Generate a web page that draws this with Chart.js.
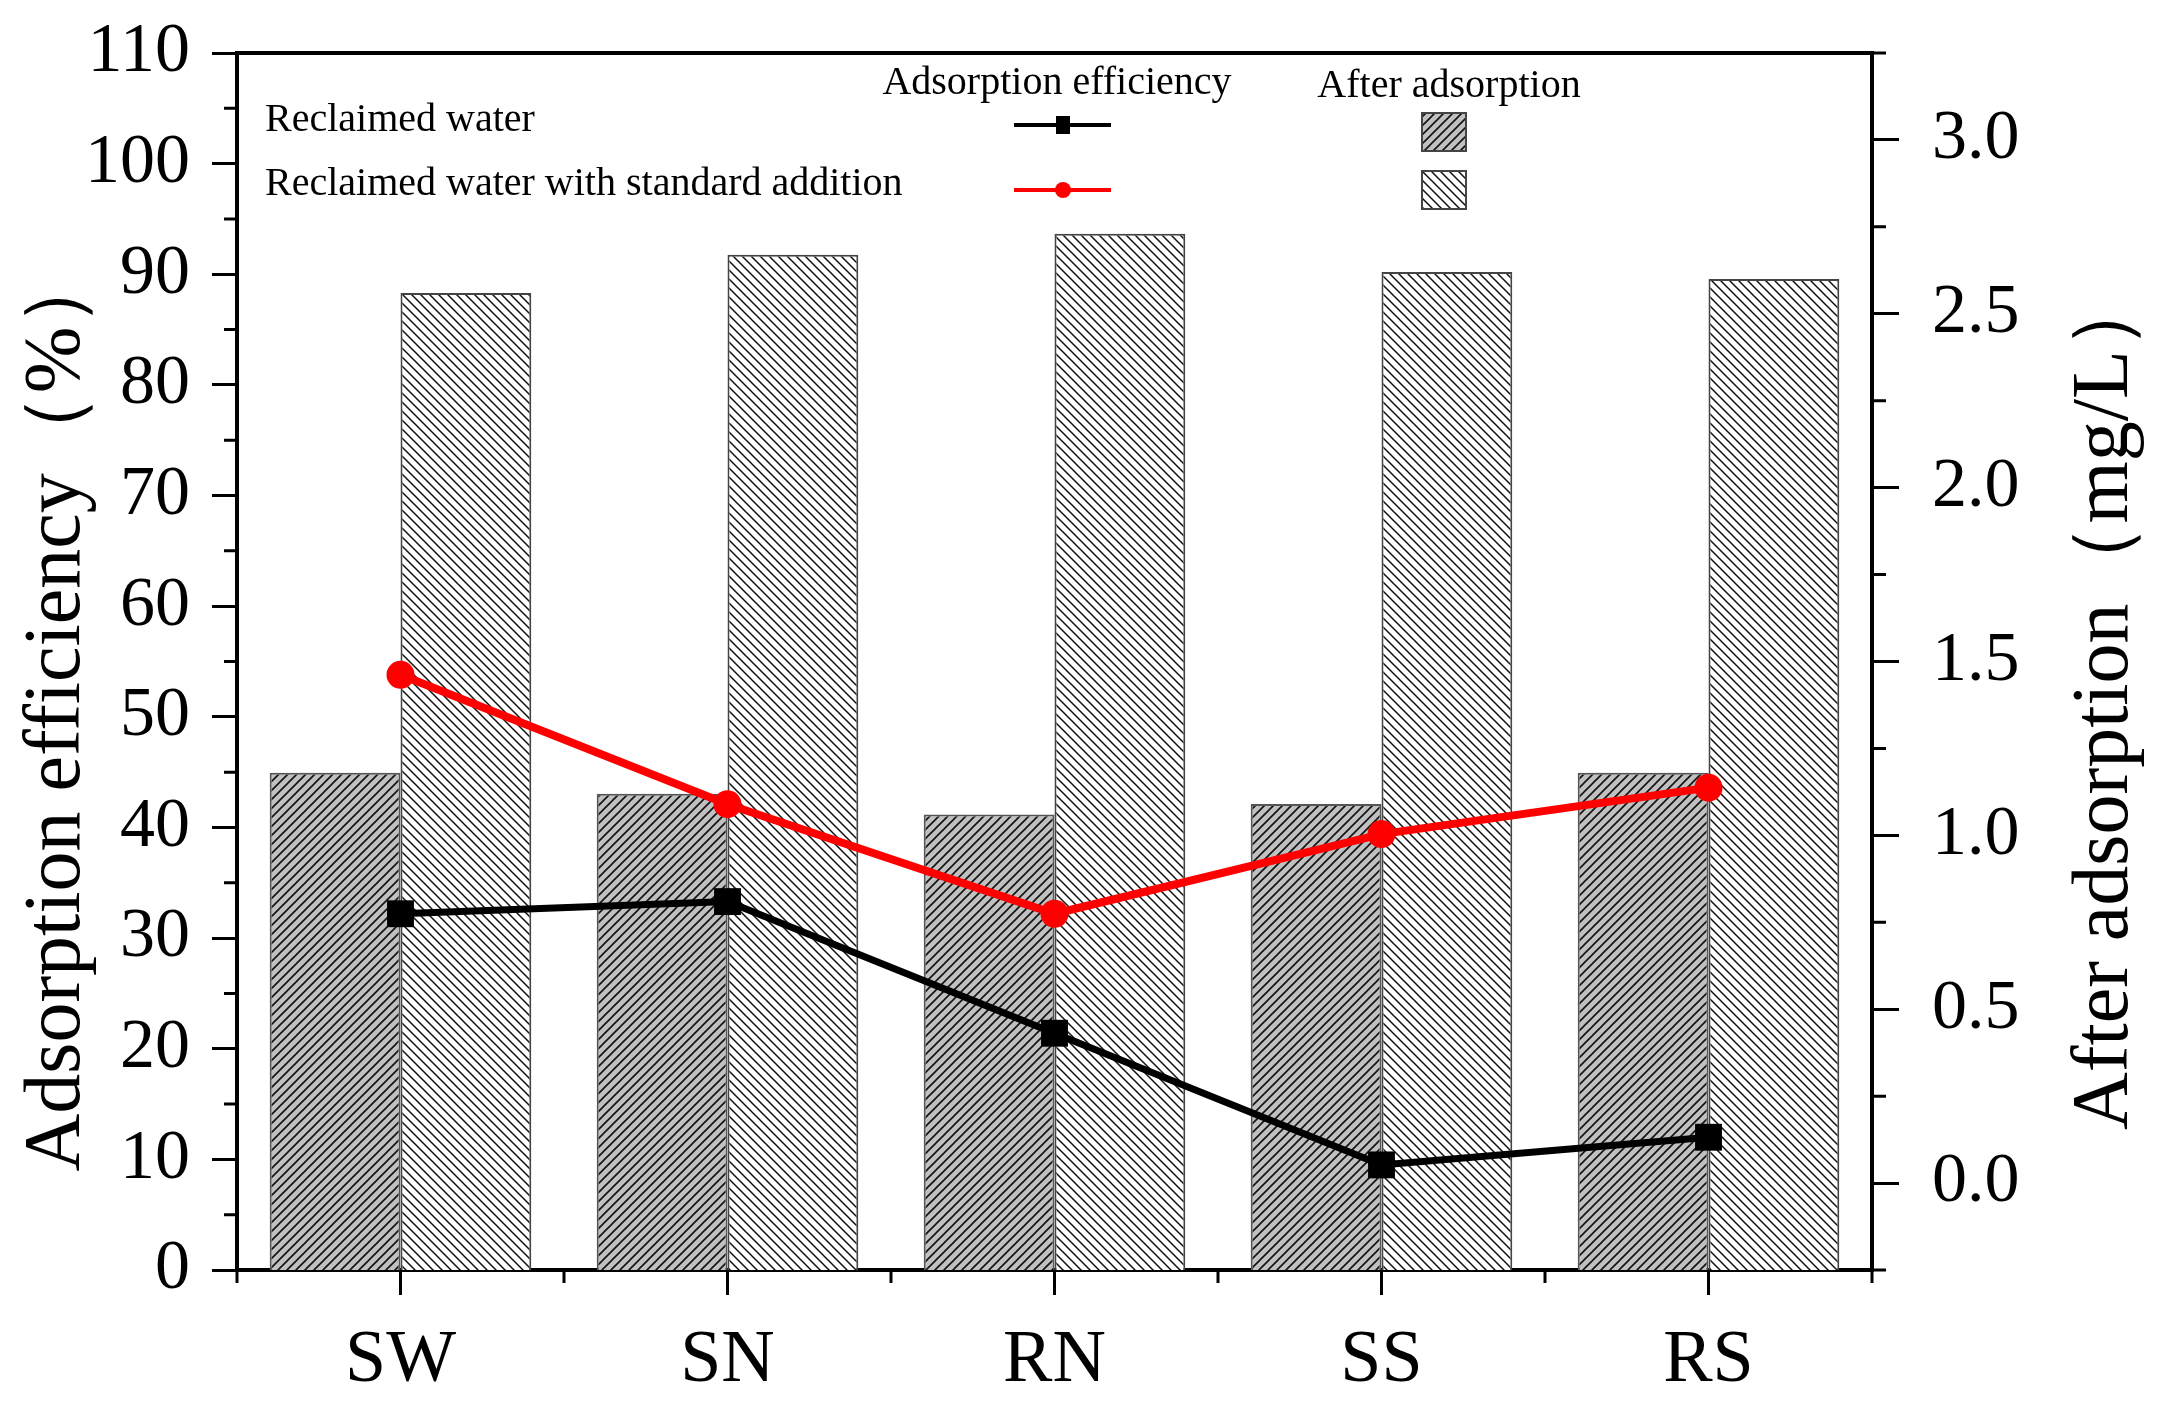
<!DOCTYPE html>
<html><head><meta charset="utf-8">
<script src="https://cdn.jsdelivr.net/npm/chart.js@4.4.1/dist/chart.umd.min.js"></script>
<style>html,body{margin:0;padding:0;background:#fff;} #wrap{width:2164px;height:1405px;}</style>
</head><body><div id="wrap"><canvas id="c" width="2164" height="1405"></canvas></div>
<script>
// ---- data ----
const categories = ['SW', 'SN', 'RN', 'SS', 'RS'];
const efficiencyReclaimed = [32.2, 33.3, 21.4, 9.5, 12.0];      // %  (black squares)
const efficiencyStandard  = [53.8, 42.1, 32.2, 39.4, 43.6];     // %  (red circles)
const afterReclaimed = [1.18, 1.12, 1.06, 1.09, 1.18];          // mg/L (grey hatched bars)
const afterStandard  = [2.56, 2.67, 2.73, 2.62, 2.60];          // mg/L (white hatched bars)
const leftTickValues  = [0, 10, 20, 30, 40, 50, 60, 70, 80, 90, 100, 110];
const rightTickValues = [0.0, 0.5, 1.0, 1.5, 2.0, 2.5, 3.0];
const leftRange  = [0, 110];
const rightRange = [-0.25, 3.25];
const leftTitle  = 'Adsorption efficiency\uFF08%\uFF09';
const rightTitle = 'After adsorption\uFF08mg/L\uFF09';
const legendHeaders = ['Adsorption efficiency', 'After adsorption'];
const legendRows = ['Reclaimed water', 'Reclaimed water with standard addition'];

const SERIF = '"Liberation Serif", "Times New Roman", serif';
const canvas = document.getElementById('c');
const mainCtx = canvas.getContext('2d');

function hatch(bg, dir, s, color, lw) {
  const c = document.createElement('canvas'); c.width = s; c.height = s;
  const x = c.getContext('2d');
  x.fillStyle = bg; x.fillRect(0, 0, s, s);
  x.strokeStyle = color; x.lineWidth = lw; x.beginPath();
  if (dir === '/') {
    x.moveTo(0, s); x.lineTo(s, 0);
    x.moveTo(-s/2, s/2); x.lineTo(s/2, -s/2);
    x.moveTo(s/2, s*1.5); x.lineTo(s*1.5, s/2);
  } else {
    x.moveTo(0, 0); x.lineTo(s, s);
    x.moveTo(-s/2, s/2); x.lineTo(s/2, s*1.5);
    x.moveTo(s/2, -s/2); x.lineTo(s*1.5, s/2);
  }
  x.stroke();
  return mainCtx.createPattern(c, 'repeat');
}
const darkPat = hatch('#c0c0c0', '/', 9, '#111', 1.6);
const lightPat = hatch('#ffffff', '\\', 9, '#111', 1.5);

const decor = {
  id: 'decor',
  afterDraw(chart) {
    const ctx = chart.ctx, a = chart.chartArea;
    const sx = chart.scales.x, sy = chart.scales.y, sr = chart.scales.y1;
    ctx.save();
    ctx.strokeStyle = '#000';
    // top frame
    ctx.lineWidth = 4;
    ctx.beginPath(); ctx.moveTo(a.left - 2, a.top); ctx.lineTo(a.right + 2, a.top); ctx.stroke();
    // minor ticks
    ctx.lineWidth = 3;
    ctx.beginPath();
    for (let v = leftRange[0] + 5; v < leftRange[1]; v += 10) {
      const y = sy.getPixelForValue(v); ctx.moveTo(a.left - 13, y); ctx.lineTo(a.left, y);
    }
    for (let v = rightRange[0]; v <= rightRange[1] + 1e-9; v += 0.5) {
      const y = sr.getPixelForValue(v); ctx.moveTo(a.right, y); ctx.lineTo(a.right + 14, y);
    }
    const n = categories.length;
    for (let i = 0; i <= n; i++) {
      let x;
      if (i === 0) x = a.left; else if (i === n) x = a.right;
      else x = (sx.getPixelForValue(i - 1) + sx.getPixelForValue(i)) / 2;
      ctx.moveTo(x, a.bottom); ctx.lineTo(x, a.bottom + 13);
    }
    ctx.stroke();
    // axis titles
    ctx.fillStyle = '#000';
    ctx.font = '80px ' + SERIF;
    ctx.textAlign = 'center'; ctx.textBaseline = 'middle';
    ctx.save(); ctx.translate(58, 709); ctx.rotate(-Math.PI / 2); ctx.fillText(leftTitle, 0, 0); ctx.restore();
    ctx.save(); ctx.translate(2106, 700); ctx.rotate(-Math.PI / 2); ctx.fillText(rightTitle, 0, 0); ctx.restore();
    // legend
    ctx.font = '40px ' + SERIF;
    ctx.textBaseline = 'alphabetic';
    ctx.textAlign = 'center';
    ctx.fillText(legendHeaders[0], 1057, 94);
    ctx.fillText(legendHeaders[1], 1449, 97);
    ctx.textAlign = 'left';
    ctx.fillText(legendRows[0], 265, 131);
    ctx.fillText(legendRows[1], 265, 195);
    // line samples
    ctx.lineWidth = 4;
    ctx.strokeStyle = '#000';
    ctx.beginPath(); ctx.moveTo(1014, 125); ctx.lineTo(1111, 125); ctx.stroke();
    ctx.fillStyle = '#000'; ctx.fillRect(1063 - 7, 125 - 9, 14, 18);
    ctx.strokeStyle = '#ff0000';
    ctx.beginPath(); ctx.moveTo(1014, 190); ctx.lineTo(1111, 190); ctx.stroke();
    ctx.fillStyle = '#ff0000'; ctx.beginPath(); ctx.arc(1063, 190, 8, 0, Math.PI * 2); ctx.fill();
    // box samples
    ctx.lineWidth = 2; ctx.strokeStyle = '#444';
    ctx.fillStyle = darkPat; ctx.fillRect(1422, 113, 44, 38); ctx.strokeRect(1422, 113, 44, 38);
    ctx.fillStyle = lightPat; ctx.fillRect(1422, 171, 44, 38); ctx.strokeRect(1422, 171, 44, 38);
    ctx.restore();
  }
};

const axisFont = { family: SERIF, size: 70 };
new Chart(canvas, {
  type: 'bar',
  data: {
    labels: categories,
    datasets: [
      { type: 'line', label: 'Reclaimed water – adsorption efficiency', data: efficiencyReclaimed, yAxisID: 'y',
        borderColor: '#000', backgroundColor: '#000', borderWidth: 7, pointStyle: 'rect', pointRadius: 19,
        pointBorderWidth: 0, tension: 0, order: 0 },
      { type: 'line', label: 'Standard addition – adsorption efficiency', data: efficiencyStandard, yAxisID: 'y',
        borderColor: '#ff0000', backgroundColor: '#ff0000', borderWidth: 8, pointStyle: 'circle', pointRadius: 14,
        pointBorderWidth: 0, tension: 0, order: 0 },
      { type: 'bar', label: 'Reclaimed water – after adsorption', data: afterReclaimed, yAxisID: 'y1',
        base: rightRange[0], backgroundColor: darkPat, borderColor: '#555', borderWidth: 2,
        categoryPercentage: 0.8, barPercentage: 1.0, order: 1 },
      { type: 'bar', label: 'Standard addition – after adsorption', data: afterStandard, yAxisID: 'y1',
        base: rightRange[0], backgroundColor: lightPat, borderColor: '#444', borderWidth: 2,
        categoryPercentage: 0.8, barPercentage: 1.0, order: 1 }
    ]
  },
  options: {
    responsive: false, animation: false, devicePixelRatio: 1,
    layout: { padding: { top: 53, left: 0, right: 0, bottom: 0 } },
    plugins: { legend: { display: false }, tooltip: { enabled: false } },
    scales: {
      x: {
        offset: true,
        grid: { display: true, offset: false, drawOnChartArea: false, drawTicks: true, tickLength: 25, lineWidth: 3, color: '#000' },
        border: { display: true, width: 4, color: '#000' },
        ticks: { color: '#000', font: { family: SERIF, size: 74 }, padding: 22 },
        afterFit: s => { s.height = 135; s.paddingLeft = 0; s.paddingRight = 0; }
      },
      y: {
        position: 'left', min: leftRange[0], max: leftRange[1],
        afterBuildTicks: s => { s.ticks = leftTickValues.map(v => ({ value: v })); },
        grid: { display: true, drawOnChartArea: false, drawTicks: true, tickLength: 25, lineWidth: 3, color: '#000' },
        border: { display: true, width: 4, color: '#000' },
        ticks: { color: '#000', font: axisFont, padding: 22 },
        afterFit: s => { s.width = 237; s.paddingTop = 0; s.paddingBottom = 0; }
      },
      y1: {
        position: 'right', min: rightRange[0], max: rightRange[1],
        afterBuildTicks: s => { s.ticks = rightTickValues.map(v => ({ value: v })); },
        grid: { display: true, drawOnChartArea: false, drawTicks: true, tickLength: 27, lineWidth: 3, color: '#000' },
        border: { display: true, width: 4, color: '#000' },
        ticks: { color: '#000', font: axisFont, padding: 33, callback: v => Number(v).toFixed(1) },
        afterFit: s => { s.width = 292; s.paddingTop = 0; s.paddingBottom = 0; }
      }
    }
  },
  plugins: [decor]
});
</script>
</body></html>
